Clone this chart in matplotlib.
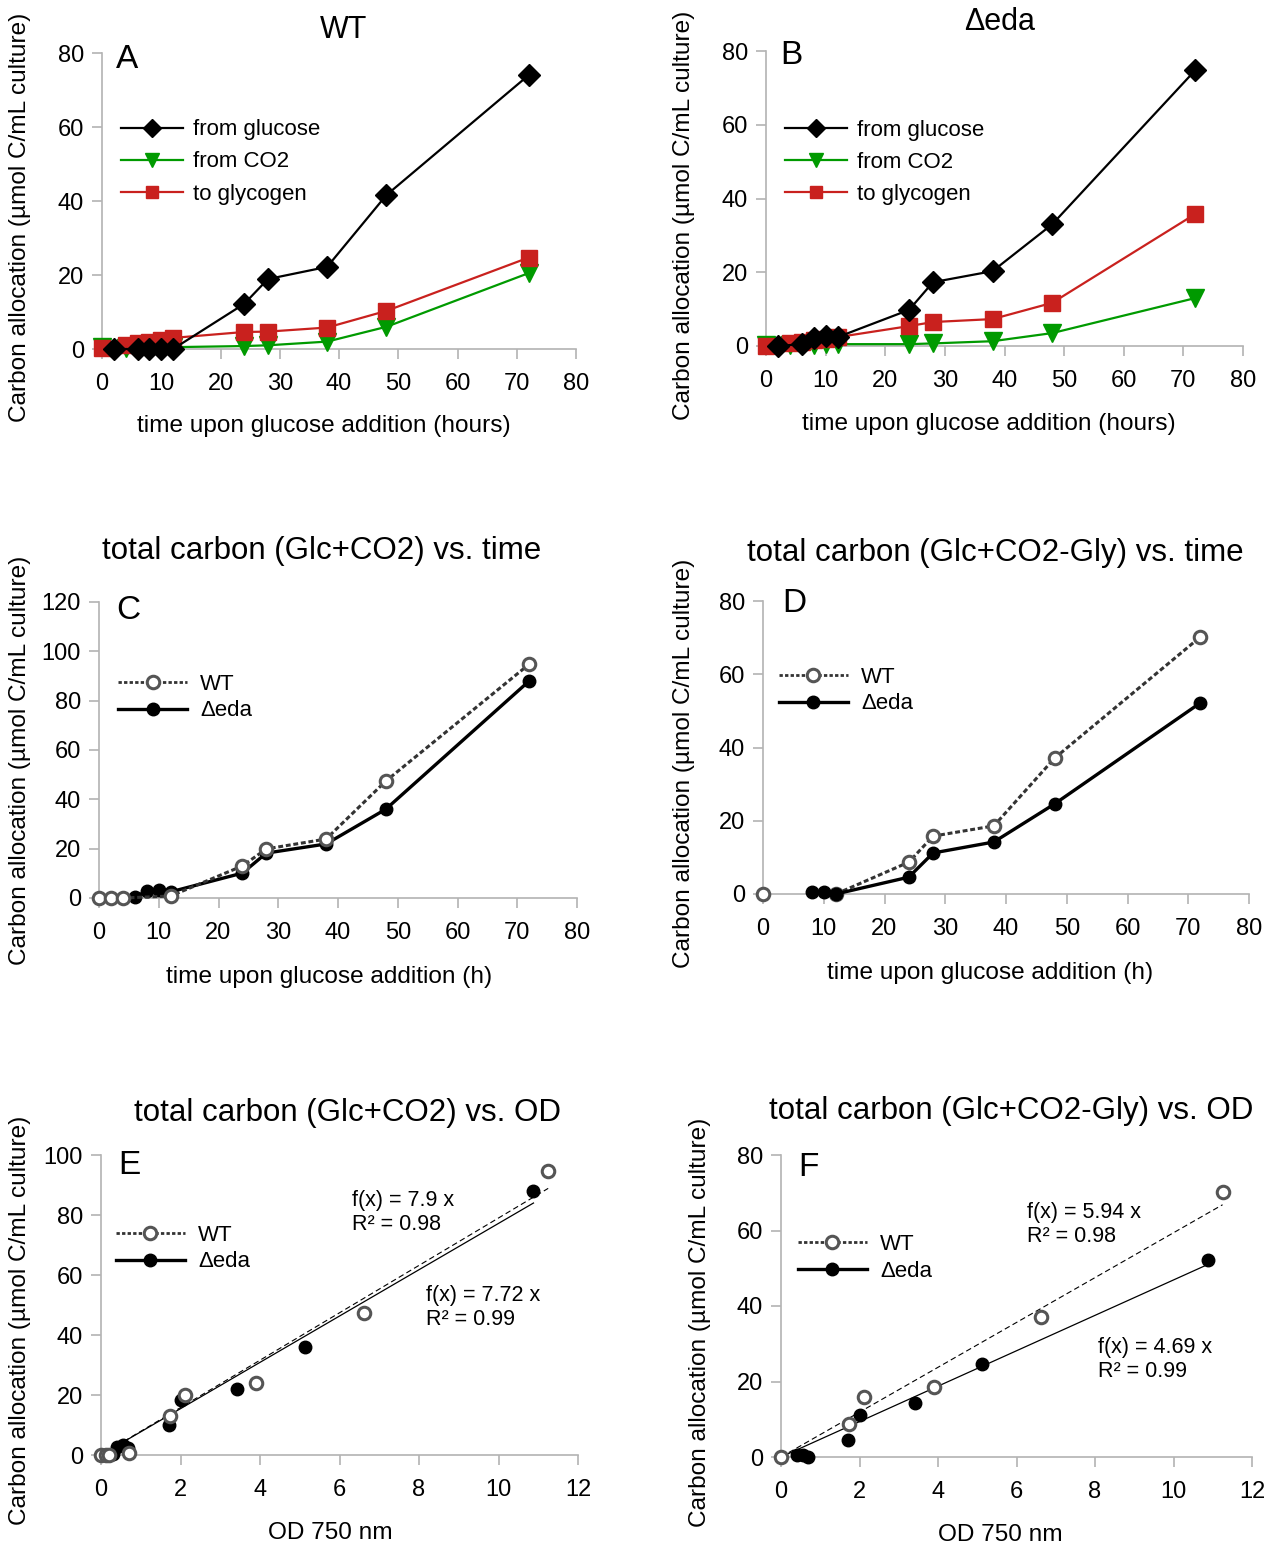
import numpy as np
import matplotlib
matplotlib.use('Agg')
from matplotlib import pyplot as plt

plt.rcParams['font.family'] = ['Liberation Sans', 'DejaVu Sans']

# ---- panel A / B : carbon allocation per source ----
t_glc = [2, 6, 8, 10, 12, 24, 28, 38, 48, 72]
t_all = [0, 4, 6, 8, 10, 12, 24, 28, 38, 48, 72]

wt_glc = [0, 0, 0, 0, 0, 12.2, 18.9, 22.2, 41.6, 74.0]
wt_co2 = [0.5, 0.3, 0.5, 0.5, 0.5, 0.5, 0.8, 1.0, 2.0, 6.0, 20.5]
wt_gly = [0.2, 1.0, 1.5, 2.0, 2.5, 3.0, 4.6, 4.7, 5.8, 10.3, 24.7]

eda_glc = [0, 0.5, 2.2, 2.7, 2.4, 9.8, 17.3, 20.3, 33.0, 74.8]
eda_co2 = [0.3, 0.3, 0.4, 0.4, 0.5, 0.5, 0.5, 0.7, 1.3, 3.5, 13.0]
eda_gly = [0, 0.8, 1.2, 1.6, 2.0, 2.4, 5.4, 6.5, 7.3, 11.7, 35.8]

# ---- panel C / D : total carbon vs time ----
t_wt_tot = [0, 2, 4, 12, 24, 28, 38, 48, 72]
wt_tot = [0, 0, 0, 0.8, 13.0, 19.9, 23.9, 47.4, 94.8]
t_eda_tot = [6, 8, 10, 12, 24, 28, 38, 48, 72]
eda_tot = [0.4, 2.8, 3.2, 2.5, 10.1, 18.2, 21.9, 36.0, 88.0]

# WT net: t=0 stands alone, gap (nan) until 12 h
t_wt_net = [0, 6, 12, 24, 28, 38, 48, 72]
wt_net = [0, np.nan, 0, 8.7, 15.8, 18.6, 37.1, 70.2]
t_eda_net = [8, 10, 12, 24, 28, 38, 48, 72]
eda_net = [0.6, 0.6, 0, 4.6, 11.2, 14.2, 24.6, 52.2]

# ---- panel E / F : vs OD 750 ----
od_wt_tot = [0, 0.12, 0.2, 0.7, 1.74, 2.11, 3.9, 6.62, 11.25]
od_eda_tot = [0.3, 0.4, 0.55, 0.69, 1.71, 2.01, 3.41, 5.12, 10.88]
od_wt_net = [0, 1.74, 2.11, 3.9, 6.62, 11.25]
wt_net_od = [0, 8.7, 15.8, 18.6, 37.1, 70.2]
od_eda_net = [0.4, 0.55, 0.69, 1.71, 2.01, 3.41, 5.12, 10.88]

fit_e = {'wt': (7.9, 0.98), 'eda': (7.72, 0.99)}
fit_f = {'wt': (5.94, 0.98), 'eda': (4.69, 0.99)}

W, H = 1273, 1548
GREEN = '#009a00'
RED = '#c9211e'
AXC = '#b3b3b3'
YLAB = 'Carbon allocation (µmol C/mL culture)'
WT_LS = (0, (1.6, 0.9))

fig = plt.figure(figsize=(W / 100, H / 100), dpi=100)


def make_ax(l, r, t, b, xmax, xstep, ymax, ystep):
    ax = fig.add_axes([l / W, 1 - b / H, (r - l) / W, (b - t) / H])
    ax.set_xlim(0, xmax)
    ax.set_ylim(0, ymax)
    ax.set_xticks(np.arange(0, xmax + 0.1, xstep))
    ax.set_yticks(np.arange(0, ymax + 0.1, ystep))
    for s in ['top', 'right']:
        ax.spines[s].set_visible(False)
    for s in ['left', 'bottom']:
        ax.spines[s].set_color(AXC)
        ax.spines[s].set_linewidth(1.2)
    ax.tick_params(direction='out', length=7, width=1.2, color=AXC, labelsize=17)
    ax.tick_params(axis='x', pad=10.5)
    ax.tick_params(axis='y', pad=6)
    return ax


def ftext(x, y, s, **kw):
    fig.text(x / W, 1 - y / H, s, **kw)


def pair_legend(ax, h, l, x, y):
    ax.legend(h, l, loc='upper left', bbox_to_anchor=(x, y), frameon=False,
              fontsize=16, handlelength=3.1, handletextpad=0.6,
              labelspacing=0.25, borderpad=0, borderaxespad=0)


def source_panel(ax, glc, co2, gly, ly):
    kw = dict(lw=1.6, clip_on=False)
    ax.plot(t_all, co2, color=GREEN, marker='v', ms=13, label='from CO2', zorder=3, **kw)
    ax.plot(t_all, gly, color=RED, marker='s', ms=11, label='to glycogen', zorder=3, **kw)
    ax.plot(t_glc, glc, color='black', marker='D', ms=11, label='from glucose', zorder=4, **kw)
    h, l = ax.get_legend_handles_labels()
    order = [2, 0, 1]
    ax.legend([h[i] for i in order], [l[i] for i in order], loc='upper left',
              bbox_to_anchor=(0.04, ly), frameon=False, fontsize=16,
              handlelength=2.8, handletextpad=0.45, labelspacing=0.5,
              borderpad=0, borderaxespad=0, markerscale=0.8)


def wt_handle():
    return plt.Line2D([], [], color='#333333', lw=2.0, ls=(0, (1.2, 0.8)), marker='o',
                      ms=9, mfc='white', mec='#555555', mew=2.2)


def eda_handle():
    return plt.Line2D([], [], color='black', lw=2.4, marker='o', ms=9)


def wt_eda_lines(ax, tw, vw, te, ve, wt_top=True):
    ax.plot(te, ve, color='black', lw=2.4, marker='o', ms=9,
            clip_on=False, zorder=3 if wt_top else 5)
    ax.plot(tw, vw, color='#333333', lw=2.2, ls=WT_LS, marker='o', ms=9,
            mfc='white', mec='#555555', mew=2.2, clip_on=False, zorder=4)
    return [wt_handle(), eda_handle()], ['WT', 'Δeda']


def wt_eda_scatter(ax, xw, vw, xe, ve, fit):
    ax.plot(xe, ve, ls='none', marker='o', ms=9, color='black', clip_on=False, zorder=3)
    ax.plot(xw, vw, ls='none', marker='o', ms=9, mfc='white', mec='#555555',
            mew=2.2, clip_on=False, zorder=4)
    xs = np.array([0, max(xw)])
    ax.plot(xs, fit['wt'][0] * xs, color='black', lw=0.8, ls=(0, (5, 3)), zorder=2)
    xs = np.array([0, max(xe)])
    ax.plot(xs, fit['eda'][0] * xs, color='black', lw=0.9, zorder=2)
    return [wt_handle(), eda_handle()], ['WT', 'Δeda']


def fit_text(ax, x, y1, y2, fit):
    ax.text(x, y1, 'f(x) = %s x' % fit[0], fontsize=15.5, va='center')
    ax.text(x, y2, 'R² = %.2f' % fit[1], fontsize=15.5, va='center')


# A
ax = make_ax(102, 576, 53, 349, 80, 10, 80, 20)
source_panel(ax, wt_glc, wt_co2, wt_gly, 0.776)
ftext(344, 30, 'WT', fontsize=22, ha='center', va='center')
ftext(116, 60, 'A', fontsize=24, ha='left', va='center')
ftext(324, 426, 'time upon glucose addition (hours)', fontsize=17.6, ha='center', va='center')
ftext(20, 217, YLAB, fontsize=17.6, ha='center', va='center', rotation=90)

# B
ax = make_ax(766, 1243, 51, 346, 80, 10, 80, 20)
source_panel(ax, eda_glc, eda_co2, eda_gly, 0.766)
ftext(1000, 22, 'Δeda', fontsize=22, ha='center', va='center')
ftext(780, 55, 'B', fontsize=24, ha='left', va='center')
ftext(989, 424, 'time upon glucose addition (hours)', fontsize=17.6, ha='center', va='center')
ftext(684, 215, YLAB, fontsize=17.6, ha='center', va='center', rotation=90)

# C
ax = make_ax(99, 577, 602, 898, 80, 10, 120, 20)
h, l = wt_eda_lines(ax, t_wt_tot, wt_tot, t_eda_tot, eda_tot)
pair_legend(ax, h, l, 0.04, 0.757)
ftext(322, 551, 'total carbon (Glc+CO2) vs. time', fontsize=22.5, ha='center', va='center')
ftext(116, 611, 'C', fontsize=24, ha='left', va='center')
ftext(329, 977, 'time upon glucose addition (h)', fontsize=17.6, ha='center', va='center')
ftext(20, 760, YLAB, fontsize=17.6, ha='center', va='center', rotation=90)

# D
ax = make_ax(763, 1249, 601, 894, 80, 10, 80, 20)
h, l = wt_eda_lines(ax, t_wt_net, wt_net, t_eda_net, eda_net, wt_top=False)
pair_legend(ax, h, l, 0.033, 0.775)
ftext(995, 553, 'total carbon (Glc+CO2-Gly) vs. time', fontsize=22.5, ha='center', va='center')
ftext(782, 604, 'D', fontsize=24, ha='left', va='center')
ftext(990, 973, 'time upon glucose addition (h)', fontsize=17.6, ha='center', va='center')
ftext(684, 763, YLAB, fontsize=17.6, ha='center', va='center', rotation=90)

# E
ax = make_ax(101, 578, 1155, 1455, 12, 2, 100, 20)
h, l = wt_eda_scatter(ax, od_wt_tot, wt_tot, od_eda_tot, eda_tot, fit_e)
pair_legend(ax, h, l, 0.031, 0.767)
fit_text(ax, 6.31, 84.7, 76.7, fit_e['wt'])
fit_text(ax, 8.18, 53.3, 45.3, fit_e['eda'])
ftext(347, 1113, 'total carbon (Glc+CO2) vs. OD', fontsize=22.5, ha='center', va='center')
ftext(118, 1165, 'E', fontsize=24, ha='left', va='center')
ftext(330, 1533, 'OD 750 nm', fontsize=17.6, ha='center', va='center')
ftext(20, 1320, YLAB, fontsize=17.6, ha='center', va='center', rotation=90)

# F
ax = make_ax(781, 1252, 1155, 1457, 12, 2, 80, 20)
h, l = wt_eda_scatter(ax, od_wt_net, wt_net_od, od_eda_net, eda_net, fit_f)
pair_legend(ax, h, l, 0.036, 0.738)
fit_text(ax, 6.27, 64.8, 58.4, fit_f['wt'])
fit_text(ax, 8.08, 29.1, 22.7, fit_f['eda'])
ftext(1011, 1111, 'total carbon (Glc+CO2-Gly) vs. OD', fontsize=22.5, ha='center', va='center')
ftext(798, 1168, 'F', fontsize=24, ha='left', va='center')
ftext(1000, 1535, 'OD 750 nm', fontsize=17.6, ha='center', va='center')
ftext(700, 1322, YLAB, fontsize=17.6, ha='center', va='center', rotation=90)

fig.savefig('out.png', dpi=100)
